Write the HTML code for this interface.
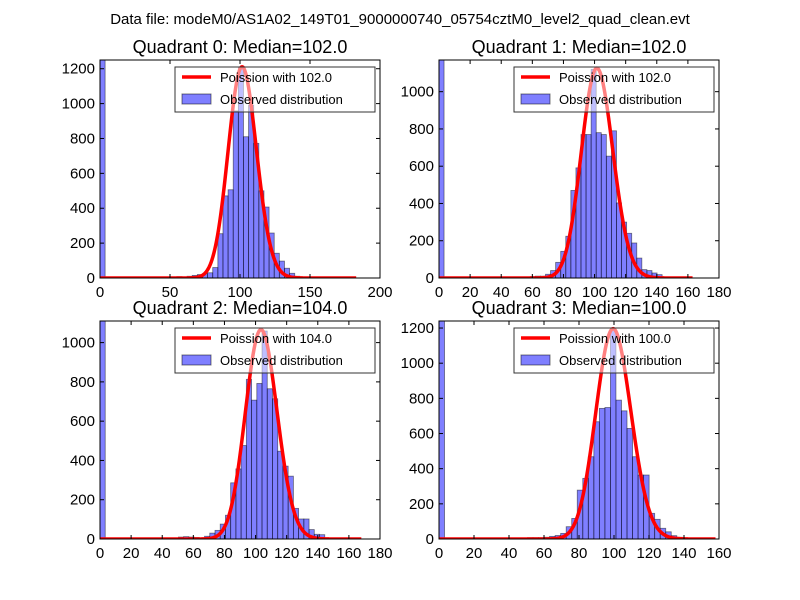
<!DOCTYPE html>
<html><head><meta charset="utf-8"><style>
body{margin:0;background:#fff;}
svg{display:block;font-family:"Liberation Sans","DejaVu Sans",sans-serif;}
</style></head><body>
<svg id="fig" width="800" height="600" viewBox="0 0 800 600">
<rect width="800" height="600" fill="#fff"/>
<text x="400" y="24" font-size="15" text-anchor="middle">Data file: modeM0/AS1A02_149T01_9000000740_05754cztM0_level2_quad_clean.evt</text>
</svg>
<script>
const quadTitles=["Quadrant 0: Median=102.0","Quadrant 1: Median=102.0","Quadrant 2: Median=104.0","Quadrant 3: Median=100.0"];
const medians=[102,102,104,100];
const binWidths=[3.66,3.26,3.36,3.16];
const counts0=[2000,0,0,0,0,0,0,0,0,0,0,0,0,3,5,8,5,10,15,20,25,30,60,254,471,506,958,1207,810,991,772,500,407,258,142,97,56,27,10,3,0,0,0,0,0,0,0,0,0,0];
const counts1=[2000,0,0,0,0,0,0,0,0,0,0,0,0,0,5,5,5,5,8,10,10,20,40,84,143,224,470,591,770,770,1120,780,770,654,790,403,300,240,188,107,45,40,27,18,5,0,0,0,0,0];
const counts2=[2000,0,0,0,0,0,0,0,0,0,0,0,0,0,0,10,12,10,8,5,14,30,44,76,121,286,357,476,813,707,792,1059,765,714,447,371,320,156,102,102,48,24,22,5,0,0,0,0,0,0];
const counts3=[2000,0,0,0,0,0,0,0,0,0,0,0,0,0,0,5,8,8,8,10,15,20,32,70,117,278,345,468,667,743,748,1190,790,729,629,468,364,364,146,112,61,41,19,10,0,0,0,0,0,0];
const allCounts=[counts0,counts1,counts2,counts3];
const curvePeaks=[1210,1125,1065,1195];
const curveEnds=[183,163,168,158];
const xMaxes=[200,180,180,160];
const yMaxes=[1250,1170,1110,1240];
const xTicks0=[0,50,100,150,200];
const xTicks1=[0,20,40,60,80,100,120,140,160,180];
const xTicks2=[0,20,40,60,80,100,120,140,160,180];
const xTicks3=[0,20,40,60,80,100,120,140,160];
const allXTicks=[xTicks0,xTicks1,xTicks2,xTicks3];
const yTicks0=[0,200,400,600,800,1000,1200];
const yTicks1=[0,200,400,600,800,1000];
const yTicks2=[0,200,400,600,800,1000];
const yTicks3=[0,200,400,600,800,1000,1200];
const allYTicks=[yTicks0,yTicks1,yTicks2,yTicks3];

const NS="http://www.w3.org/2000/svg";
const svg=document.getElementById('fig');
function mk(tag,attrs,parent){const e=document.createElementNS(NS,tag);for(const k in attrs)e.setAttribute(k,attrs[k]);(parent||svg).appendChild(e);return e;}
function lgam(n){
  let s=0;while(n<7){s-=Math.log(n);n+=1;}
  return s+(n-0.5)*Math.log(n)-n+0.5*Math.log(2*Math.PI)+1/(12*n)-1/(360*n*n*n);
}
function logPois(k,l){return k*Math.log(l)-l-lgam(k+1);}
const boxes=[[100,60],[439,60],[100,321],[439,321]];
const W=280,H=218;
for(let q=0;q<4;q++){
  const [L,T]=boxes[q];
  const g=mk('g',{});
  
  
  const xs=v=>L+v/xMaxes[q]*W;
  const ys=v=>T+H-v/yMaxes[q]*H;
  const clipId='clip'+q;
  const cp=mk('clipPath',{id:clipId},g);mk('rect',{x:L,y:T,width:W,height:H},cp);
  const plot=mk('g',{'clip-path':'url(#'+clipId+')'},g);
  const c=allCounts[q],bw=binWidths[q];
  for(let i=0;i<c.length;i++){
    if(c[i]<=0)continue;
    const x0=xs(i*bw),x1=xs((i+1)*bw);
    const b=mk('rect',{x:x0,y:ys(c[i]),width:x1-x0,height:ys(0)-ys(c[i]),fill:'rgba(0,0,255,0.5)',stroke:'rgba(0,0,0,0.5)','stroke-width':0.8},plot);
    
    
  }
  const lam=medians[q];const mode=Math.floor(lam);const lm=logPois(mode,lam);
  let d='';
  for(let k=0;k<=curveEnds[q];k+=0.5){
    const v=curvePeaks[q]*Math.exp(logPois(k,lam)-lm);
    d+=(k===0?'M':'L')+xs(k).toFixed(2)+','+ys(v).toFixed(2);
  }
  const cv=mk('path',{d:d,fill:'none',stroke:'#ff0000','stroke-width':3.5,'stroke-linejoin':'round'},plot);
  
  
  const fr=mk('rect',{x:L,y:T,width:W,height:H,fill:'none',stroke:'#000','stroke-width':1},g);
  
  
  for(const t of allXTicks[q]){
    const x=xs(t);
    mk('line',{x1:x,y1:T+H,x2:x,y2:T+H-4,stroke:'#000'},g);
    mk('line',{x1:x,y1:T,x2:x,y2:T+4,stroke:'#000'},g);
    const tl=mk('text',{x:x,y:T+H+19,'font-size':15,'text-anchor':'middle'},g);
    tl.textContent=t;
    
    
  }
  for(const t of allYTicks[q]){
    const y=ys(t);
    mk('line',{x1:L,y1:y,x2:L+4,y2:y,stroke:'#000'},g);
    mk('line',{x1:L+W,y1:y,x2:L+W-4,y2:y,stroke:'#000'},g);
    const tl=mk('text',{x:L-5,y:y+5,'font-size':15,'text-anchor':'end'},g);
    tl.textContent=t;
    
    
  }
  const ti=mk('text',{x:L+W/2,y:T-7,'font-size':18,'text-anchor':'middle'},g);
  ti.textContent=quadTitles[q];
  
  
  const lg=mk('g',{},g);
  
  
  const lx=L+75,ly=T+7;
  mk('rect',{x:lx,y:ly,width:200,height:45,fill:'#fff','fill-opacity':0.5,stroke:'#333','stroke-width':1},lg);
  mk('line',{x1:lx+7,y1:ly+10,x2:lx+36,y2:ly+10,stroke:'#ff0000','stroke-width':3.5},lg);
  const t1=mk('text',{x:lx+45,y:ly+15,'font-size':13},lg);
  t1.textContent='Poission with '+medians[q].toFixed(1);
  
  
  mk('rect',{x:lx+7,y:ly+27,width:29,height:10,fill:'rgba(0,0,255,0.5)',stroke:'rgba(0,0,0,0.5)'},lg);
  const t2=mk('text',{x:lx+45,y:ly+37,'font-size':13},lg);
  t2.textContent='Observed distribution';
  
  
}
</script>
</body></html>
